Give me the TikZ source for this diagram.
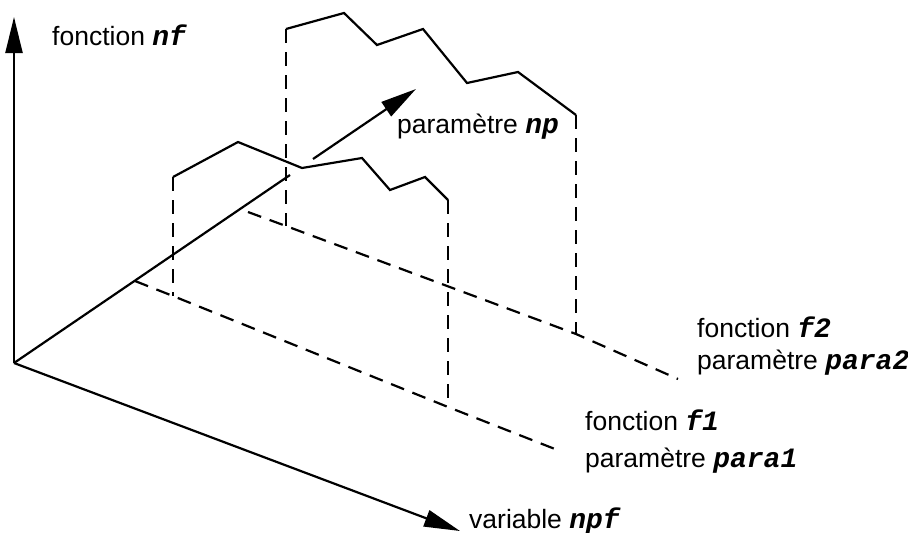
\documentclass[tikz,border=0pt]{standalone}
\usepackage{fontspec}
\setmainfont{Liberation Sans}
\newfontfamily\cour{Liberation Mono}
\usetikzlibrary{arrows.meta}
\newcommand{\cv}[1]{{\fontsize{28}{30}\cour\bfseries\itshape #1}}
\tikzset{
  axisline/.style={line width=2.2pt, -{Triangle[length=36pt,width=17pt]}},
  plainline/.style={line width=2.2pt, line join=miter},
  dashline/.style={line width=2.2pt, dash pattern=on 14pt off 9pt},
  lbl/.style={anchor=base west, inner sep=0pt, font=\fontsize{26.5}{30}\selectfont},
}
\begin{document}
\begin{tikzpicture}[x=1pt,y=-1pt]
\useasboundingbox (0,0) rectangle (908,533);
% axes points
\coordinate (O) at (14,363);
\coordinate (Ytop) at (14,17);
\coordinate (Xtip) at (460,531);
\coordinate (Zend1) at (290,175);
\coordinate (Zstart2) at (313,159);
\coordinate (Ztip) at (416,89);
% curve f1
\coordinate (a1) at (173,177);
\coordinate (a2) at (238,142);
\coordinate (a3) at (302,168);
\coordinate (a4) at (362,158);
\coordinate (a5) at (390,190);
\coordinate (a6) at (425,177);
\coordinate (a7) at (448,200);
% curve f2
\coordinate (b1) at (286,29);
\coordinate (b2) at (344,13);
\coordinate (b3) at (377,45);
\coordinate (b4) at (423,29);
\coordinate (b5) at (467,83);
\coordinate (b6) at (518,72);
\coordinate (b7) at (576,115);
% base lines
\coordinate (p1s) at (135,281);
\coordinate (p1a) at (173,296);
\coordinate (p1b) at (448,407);
\coordinate (p1e) at (560,451);
\coordinate (p2s) at (248,212);
\coordinate (p2a) at (286,226);
\coordinate (p2b) at (576,334);
\coordinate (p2e) at (678,379);

% axes
\draw[axisline] (O) -- (Ytop);
\draw[axisline] (O) -- (Xtip);
\draw[plainline] (O) -- (Zend1);
\draw[axisline] (Zstart2) -- (Ztip);

% curves
\draw[plainline] (a1) -- (a2) -- (a3) -- (a4) -- (a5) -- (a6) -- (a7);
\draw[plainline] (b1) -- (b2) -- (b3) -- (b4) -- (b5) -- (b6) -- (b7);

% dashed verticals and bases
\draw[dashline] (a1) -- (p1a);
\draw[dashline] (a7) -- (p1b);
\draw[dashline] (b1) -- (p2a);
\draw[dashline] (b7) -- (p2b);
\draw[dashline] (p1s) -- (p1a) -- (p1b) -- (p1e);
\draw[dashline] (p2s) -- (p2a) -- (p2b) -- (p2e);

% labels
\node[lbl] (lnf) at (52,45) {fonction \cv{nf}};
\node[lbl] (lnp) at (397,133) {paramètre \cv{np}};
\node[lbl] (lf2) at (697,337) {fonction \cv{f2}};
\node[lbl] (lp2) at (697,369) {paramètre \cv{para2}};
\node[lbl] (lf1) at (585,430) {fonction \cv{f1}};
\node[lbl] (lp1) at (585,467) {paramètre \cv{para1}};
\node[lbl] (lnpf) at (469,528) {variable \cv{npf}};
\end{tikzpicture}
\end{document}
